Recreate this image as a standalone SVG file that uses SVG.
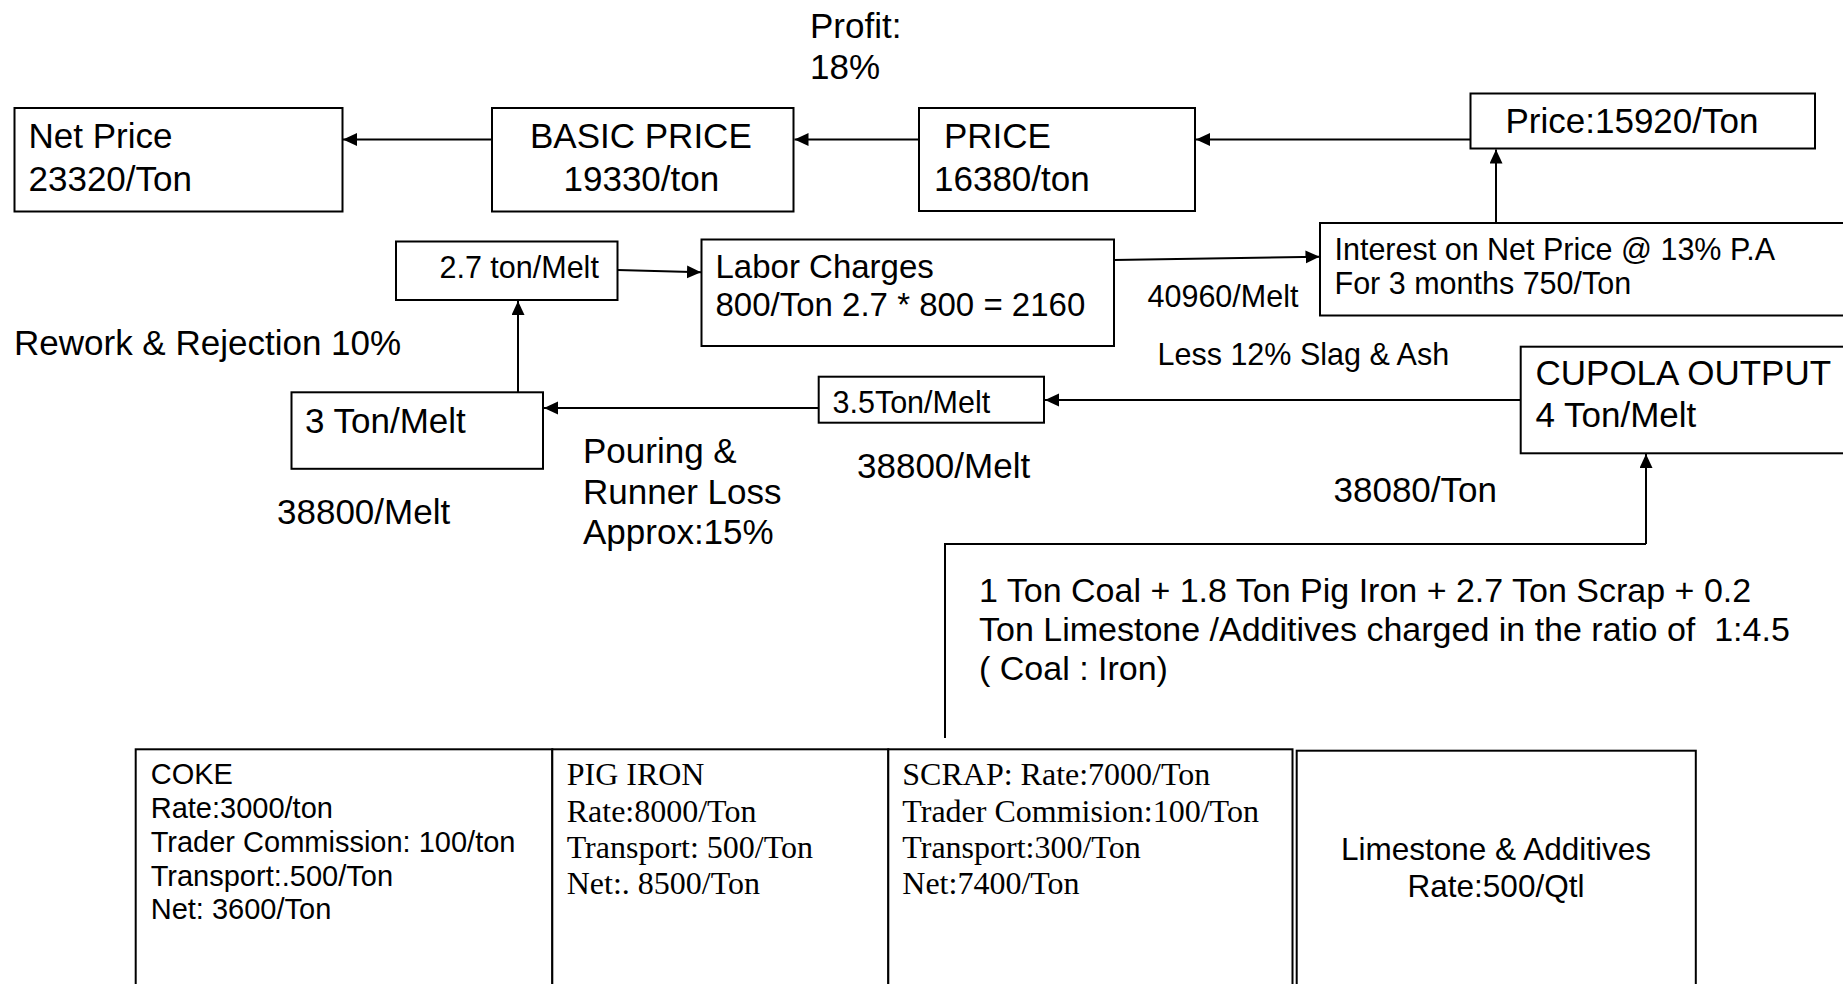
<svg xmlns="http://www.w3.org/2000/svg" width="1843" height="984" viewBox="0 0 1843 984">
<style>
.box{fill:#fff;stroke:#000;stroke-width:2}
.ln{fill:none;stroke:#000;stroke-width:2}
.arr{fill:none;stroke:#000;stroke-width:2;marker-end:url(#ah)}
text{font-family:"Liberation Sans",Arial,sans-serif;fill:#000}
.s35{font-size:35px}
.s33{font-size:33px}
.s30{font-size:30.5px}
.s34{font-size:34px}
.s29{font-size:29px}
.s31{font-size:31.5px}
.tm{font-family:"Liberation Serif","Times New Roman",serif;font-size:32px}
</style>
<defs>
<marker id="ah" markerUnits="userSpaceOnUse" markerWidth="15" markerHeight="14" refX="14" refY="6.5" orient="auto" viewBox="0 0 15 14">
<path d="M0,0 L14,6.5 L0,13 z" fill="#000"/>
</marker>
</defs>
<rect width="1843" height="984" fill="#fff"/>

<g id="connectors">
<line class="arr" x1="492" y1="139.5" x2="343" y2="139.5"/>
<line class="arr" x1="919" y1="139.5" x2="794.5" y2="139.5"/>
<line class="arr" x1="1470.5" y1="139.5" x2="1196" y2="139.5"/>
<line class="arr" x1="1496" y1="223" x2="1496" y2="149.5"/>
<line class="arr" x1="617.5" y1="270" x2="701" y2="272.3"/>
<line class="arr" x1="1114" y1="260" x2="1319.5" y2="256.7"/>
<line class="arr" x1="518" y1="392" x2="518" y2="301"/>
<line class="arr" x1="818.5" y1="408" x2="544" y2="408"/>
<line class="arr" x1="1520.5" y1="400" x2="1045" y2="400"/>
<polyline class="ln" points="945,738 945,544 1646,544"/>
<line class="arr" x1="1646" y1="544" x2="1646" y2="454"/>
</g>

<g id="profit-label">
<text class="s35" x="810" y="38">Profit:</text>
<text class="s35" x="810" y="79">18%</text>
</g>

<g id="net-price">
<rect class="box" x="14.5" y="108" width="328" height="103.5"/>
<text class="s35" x="28.5" y="148">Net Price</text>
<text class="s35" x="28.5" y="190.5">23320/Ton</text>
</g>

<g id="basic-price">
<rect class="box" x="492" y="108" width="301.5" height="103.5"/>
<text class="s35" x="530" y="148">BASIC PRICE</text>
<text class="s35" x="563.5" y="190.5">19330/ton</text>
</g>

<g id="price">
<rect class="box" x="919" y="108" width="276" height="103"/>
<text class="s35" x="944" y="148">PRICE</text>
<text class="s35" x="934" y="190.5">16380/ton</text>
</g>

<g id="price-15920">
<rect class="box" x="1470.5" y="93.5" width="344.5" height="55"/>
<text class="s35" x="1505.5" y="133">Price:15920/Ton</text>
</g>

<g id="interest">
<rect class="box" x="1320" y="223" width="530" height="92.5"/>
<text class="s30" x="1334.5" y="259.5">Interest on Net Price @ 13% P.A</text>
<text class="s30" x="1334.5" y="293.5">For 3 months 750/Ton</text>
</g>

<g id="ton-2-7">
<rect class="box" x="396" y="241.5" width="221.5" height="58.5"/>
<text class="s30" x="439.5" y="277.5">2.7 ton/Melt</text>
</g>

<g id="labor">
<rect class="box" x="701.5" y="239.5" width="412.5" height="106.5"/>
<text class="s33" x="715.5" y="277.5">Labor Charges</text>
<text class="s33" x="715.5" y="315.5">800/Ton 2.7 * 800 = 2160</text>
</g>

<g id="labels-mid">
<text class="s30" x="1147.5" y="306.5">40960/Melt</text>
<text class="s30" x="1157.5" y="364.5">Less 12% Slag &amp; Ash</text>
<text class="s35" x="14" y="354.5">Rework &amp; Rejection 10%</text>
<text class="s35" x="277" y="523.5">38800/Melt</text>
<text class="s35" x="583" y="462.5">Pouring &amp;</text>
<text class="s35" x="583" y="503.5">Runner Loss</text>
<text class="s35" x="583" y="543.5">Approx:15%</text>
<text class="s35" x="857" y="477.5">38800/Melt</text>
<text class="s35" x="1333.5" y="501.5">38080/Ton</text>
</g>

<g id="ton-3">
<rect class="box" x="291.5" y="392.3" width="251.5" height="76.5"/>
<text class="s35" x="305" y="432.5">3 Ton/Melt</text>
</g>

<g id="ton-3-5">
<rect class="box" x="818.7" y="376.7" width="225.3" height="46"/>
<text class="s30" x="832.5" y="412.7">3.5Ton/Melt</text>
</g>

<g id="cupola">
<rect class="box" x="1520.7" y="346.7" width="330" height="106.6"/>
<text class="s35" x="1535.5" y="385">CUPOLA OUTPUT</text>
<text class="s35" x="1535.5" y="427.3">4 Ton/Melt</text>
</g>

<g id="charge-note">
<text class="s34" x="979" y="602" xml:space="preserve">1 Ton Coal + 1.8 Ton Pig Iron + 2.7 Ton Scrap + 0.2</text>
<text class="s34" x="979" y="641" xml:space="preserve">Ton Limestone /Additives charged in the ratio of  1:4.5</text>
<text class="s34" x="979" y="680" xml:space="preserve">( Coal : Iron)</text>
</g>

<g id="coke">
<rect class="box" x="135.7" y="749.3" width="416.6" height="250"/>
<text class="s29" x="150.7" y="784">COKE</text>
<text class="s29" x="150.7" y="818">Rate:3000/ton</text>
<text class="s29" x="150.7" y="851.5">Trader Commission: 100/ton</text>
<text class="s29" x="150.7" y="885.5">Transport:.500/Ton</text>
<text class="s29" x="150.7" y="919">Net: 3600/Ton</text>
</g>

<g id="pig-iron">
<rect class="box" x="552.3" y="749.3" width="336" height="250"/>
<text class="tm" x="566.7" y="785">PIG IRON</text>
<text class="tm" x="566.7" y="821.5">Rate:8000/Ton</text>
<text class="tm" x="566.7" y="857.5">Transport: 500/Ton</text>
<text class="tm" x="566.7" y="894">Net:. 8500/Ton</text>
</g>

<g id="scrap">
<rect class="box" x="888.3" y="749.3" width="404.2" height="250"/>
<text class="tm" x="902.3" y="785">SCRAP: Rate:7000/Ton</text>
<text class="tm" x="902.3" y="821.5">Trader Commision:100/Ton</text>
<text class="tm" x="902.3" y="857.5">Transport:300/Ton</text>
<text class="tm" x="902.3" y="894">Net:7400/Ton</text>
</g>

<g id="limestone">
<rect class="box" x="1296.7" y="750.7" width="399.1" height="250"/>
<text class="s31" x="1496" y="860" text-anchor="middle">Limestone &amp; Additives</text>
<text class="s31" x="1496" y="896.7" text-anchor="middle">Rate:500/Qtl</text>
</g>
</svg>
